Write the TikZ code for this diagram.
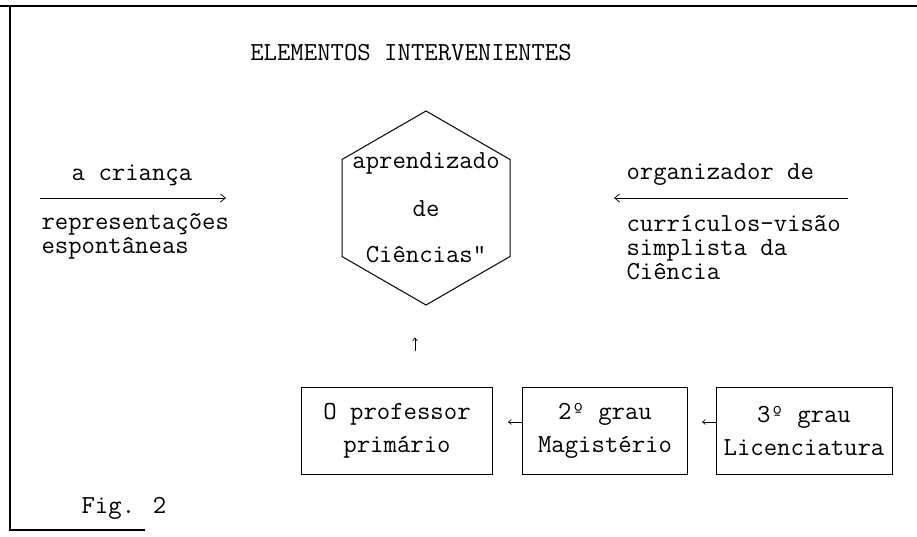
\documentclass[tikz,border=0pt]{standalone}
\usetikzlibrary{shapes.geometric, arrows.meta}
\begin{document}
\begin{tikzpicture}[x=1pt, y=-1pt, line width=1pt,
    txt/.style={font=\ttfamily\fontsize{26}{24}\selectfont, inner sep=0pt},
    caja/.style={txt, draw, minimum height=87pt, align=center},
    flecha/.style={-{Straight Barb[length=5pt, width=8pt]}, line width=0.7pt},
    flechita/.style={-{Straight Barb[length=3pt, width=5pt]}, line width=0.6pt}]
  \useasboundingbox (0,0) rectangle (917,537);

  % marco
  \draw[line width=1.3pt] (0,6) -- (917,6);
  \draw[line width=1.3pt] (10,6) -- (10,530) -- (145,530);

  \node[txt] (titulo) at (411,53) {ELEMENTOS INTERVENIENTES};

  % hexagono central
  \node[draw, regular polygon, regular polygon sides=6, shape border rotate=30,
        minimum size=194pt, inner sep=0pt] (hex) at (426,208) {};
  \node[txt, align=center] (hextxt) at (hex.center) {aprendizado\\[24pt]de\\[22pt]Ciências"};

  % lado izquierdo
  \node[txt] (crianca) at (132,175) {a criança};
  \coordinate (crA) at (40,198);
  \coordinate (crB) at (226,198);
  \draw[flecha] (crA) -- (crB);
  \node[txt, anchor=west, align=left] (repr) at (41,236) {representações\\espontâneas};

  % lado derecho
  \node[txt, anchor=west] (org) at (626,175) {organizador de};
  \coordinate (orA) at (848,198);
  \coordinate (orB) at (614,198);
  \draw[flecha] (orA) -- (orB);
  \node[txt, anchor=west, align=left] (curr) at (626,248) {currículos-visão\\simplista da\\Ciência};

  % formacion
  \node[caja, minimum width=191pt] (prof) at (397,431) {O professor\\[9pt]primário};
  \node[caja, minimum width=165pt] (mag) at (605,431) {2º grau\\[9pt]Magistério};
  \node[caja, minimum width=176pt] (lic) at (804,431) {3º grau\\[9pt]Licenciatura};

  \draw[flechita, shorten >=15pt] ([yshift=9pt]mag.west) -- ([yshift=9pt]prof.east);
  \draw[flechita, shorten >=14pt] ([yshift=9pt]lic.west) -- ([yshift=9pt]mag.east);
  \draw[flechita, shorten <=36pt, shorten >=32pt]
    ([xshift=-11pt]hex.south |- prof.north) -- ([xshift=-11pt]hex.south);

  \node[txt] (fig) at (124,508) {Fig. 2};
\end{tikzpicture}
\end{document}
